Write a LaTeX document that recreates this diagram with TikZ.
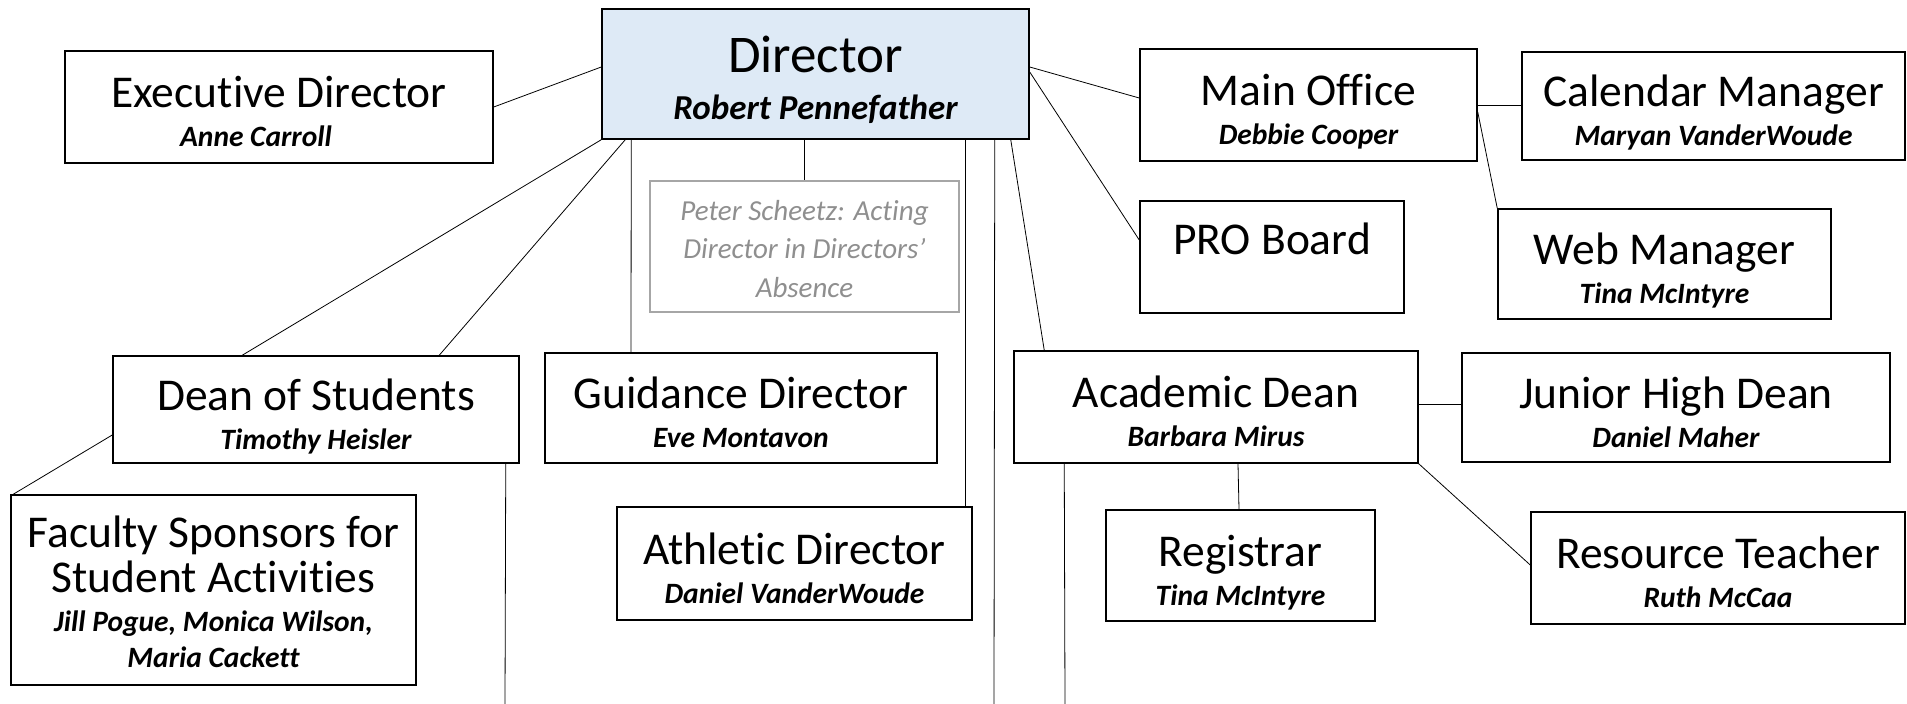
\documentclass[tikz,border=0pt]{standalone}
\usepackage{fontspec}
\setmainfont[Ligatures={NoCommon}]{Carlito}
\definecolor{DirFill}{HTML}{DEEAF6}
\definecolor{ActClr}{HTML}{8F8F8F}
\definecolor{ActLine}{HTML}{A6A6A6}
\newcommand{\TitleFont}{\normalfont\fontsize{45.5}{45.5}\selectfont}
\newcommand{\NameFont}{\fontsize{29.5}{39}\selectfont\bfseries\itshape}
\newcommand{\ttl}[1]{{\TitleFont\rule{0pt}{48.3pt}#1}}
\newcommand{\nm}{\rule[-8pt]{0pt}{8pt}}

\begin{document}
\begin{tikzpicture}[x=1pt,y=-1pt,
  box/.style={draw,line width=1.5pt,fill=white,align=center,inner sep=0pt,font=\NameFont},
  link/.style={line width=0.8pt}]
\useasboundingbox (0,0) rectangle (1907,704);

\node[box,fill=DirFill,minimum width=427pt,minimum height=130pt,font=\fontsize{35}{47}\selectfont\bfseries\itshape] (dir) at (815.5,74) {{\normalfont\fontsize{53}{53}\selectfont\rule{0pt}{52pt}Director}\\Robert Pennefather\rule[-9pt]{0pt}{9pt}};
\node[box,minimum width=428pt,minimum height=112pt] (exec) at (279,107) {\ttl{Executive Director}\\Anne Carroll\hspace*{46pt}\nm};
\node[box,draw=ActLine,line width=1.2pt,minimum width=309pt,minimum height=131pt,font=\fontsize{29}{38.5}\selectfont\itshape,text=ActClr] (acting) at (804.5,246.5) {\rule{0pt}{31.6pt}Peter Scheetz: Acting\\Director in Directors’\\Absence\rule[-7pt]{0pt}{7pt}};

\node[box,minimum width=337pt,minimum height=112pt] (main) at (1308.5,105) {\ttl{Main Office}\\Debbie Cooper\nm};
\node[box,minimum width=383pt,minimum height=108pt] (cal) at (1713.5,106) {\ttl{Calendar Manager}\\Maryan VanderWoude\nm};
\node[box,minimum width=264pt,minimum height=112pt] (pro) at (1272,257) {\ttl{PRO Board}\\[6pt]\nm};
\node[box,minimum width=333pt,minimum height=110pt] (web) at (1664.5,264) {\ttl{Web Manager}\\Tina McIntyre\nm};

\node[box,minimum width=406pt,minimum height=107pt] (dos) at (316,409.5) {\ttl{Dean of Students}\\Timothy Heisler\nm};
\node[box,line width=2pt,minimum width=392pt,minimum height=110pt] (guid) at (741,408) {\ttl{Guidance Director}\\Eve Montavon\nm};
\node[box,minimum width=404pt,minimum height=112pt] (acad) at (1216,407) {\ttl{Academic Dean}\\Barbara Mirus\nm};
\node[box,minimum width=428pt,minimum height=109pt] (jhd) at (1676,407.5) {\ttl{Junior High Dean}\\Daniel Maher\nm};

\node[box,minimum width=405pt,minimum height=190pt,font=\fontsize{29.5}{45}\selectfont\bfseries\itshape] (fac) at (213.5,590) {{\TitleFont\rule{0pt}{43.4pt}Faculty Sponsors for}\\{\TitleFont Student Activities}\\[-6pt]Jill Pogue, Monica Wilson,\\[-9pt]Maria Cackett\nm};
\node[box,minimum width=355pt,minimum height=113pt] (ath) at (794.5,563.5) {\ttl{Athletic Director}\\Daniel VanderWoude\nm};
\node[box,minimum width=269pt,minimum height=111pt] (reg) at (1240.5,565.5) {\ttl{Registrar}\\Tina McIntyre\nm};
\node[box,minimum width=374pt,minimum height=112pt] (res) at (1718,568) {\ttl{Resource Teacher}\\Ruth McCaa\nm};

\coordinate (ext1) at (505,704);
\coordinate (ext2) at (994,704);
\coordinate (ext3) at (1065,704);

\draw[link] (exec.east) -- ([yshift=7pt]dir.west);
\draw[link] (dir.south west) -- ([xshift=130pt]dos.north west);
\draw[link] ([xshift=24pt]dir.south west) -- ([xshift=327pt]dos.north west);
\draw[link] ([xshift=30pt]dir.south west) -- ([xshift=87pt]guid.north west);
\draw[link] ([xshift=-11pt]dir.south) -- (acting.north);
\draw[link] ([xshift=-64pt]dir.south east) -- ([xshift=-7pt]ath.north east);
\draw[link] ([xshift=-35pt]dir.south east) -- (ext2);
\draw[link] ([xshift=-19pt]dir.south east) -- ([xshift=31pt]acad.north west);
\draw[link] ([yshift=7pt]dir.east) -- ([yshift=7pt]main.west);
\draw[link] ([yshift=2pt]dir.east) -- ([yshift=17pt]pro.west);

\draw[link] (main.east) -- ([yshift=1pt]cal.west);
\draw[link] ([yshift=-7pt]main.east) -- (web.north west);

\draw[link] ([yshift=-25.5pt]dos.west) -- ([xshift=3pt]fac.north west);
\draw[link] ([xshift=-14pt]dos.south east) -- (ext1);

\draw[link] ([yshift=3pt]acad.east) -- ([yshift=3.5pt]jhd.west);
\draw[link] ([xshift=22pt]acad.south) -- ([xshift=-1.5pt]reg.north);
\draw[link] (acad.south east) -- ([yshift=3pt]res.west);
\draw[link] ([xshift=51pt]acad.south west) -- (ext3);

\end{tikzpicture}
\end{document}
